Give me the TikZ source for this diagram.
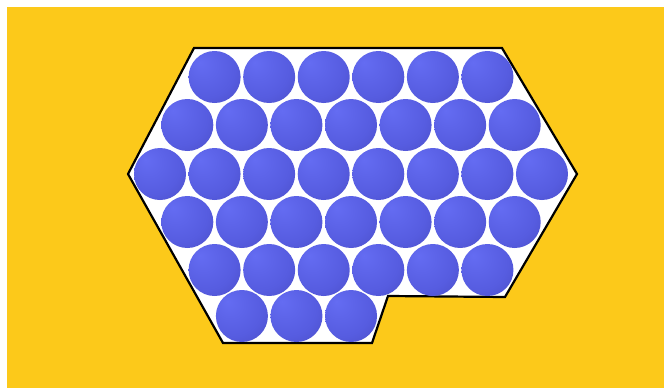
\documentclass[tikz,border=0pt]{standalone}
\usepackage{tikz}
\usepackage{xcolor}
\usetikzlibrary{calc}

\definecolor{bgyellow}{RGB}{252,201,26}
\definecolor{atomlight}{RGB}{100,108,242}
\definecolor{atommid}{RGB}{86,92,224}
\definecolor{atomdark}{RGB}{64,64,176}

\pgfdeclareradialshading{atomshade}{\pgfpoint{-14bp}{14bp}}{%
  color(0bp)=(atomlight); color(28bp)=(atommid); color(60bp)=(atomdark); color(70bp)=(atomdark)}

\begin{document}
\begin{tikzpicture}[x=1pt, y=-1pt,
        outline/.style={draw=black, line width=2.2pt, fill=white, line join=miter},
        atom/.style={shading=atomshade}
    ]

    \useasboundingbox[fill=white] (0,0) rectangle (664,388);

    % --- 1. BACKGROUND ---
    \fill[bgyellow] (7,7) rectangle (664,388);

    % --- 2. CRYSTAL OUTLINE ---
    \draw[outline] (194,48) -- (502,48) -- (577,174) -- (505,297) -- (388,296)
        -- (372,343) -- (223,343) -- (128,174) -- cycle;

    % --- 3. PACKED ATOMS ---
    % row / y / first x / count
    \foreach \ry/\fx/\n in {77/214.6/6, 125/187.3/7, 174/160/8, 222/187.3/7, 270/214.6/6, 316/241.9/3}{
        \foreach \i in {1,...,\n}{
            \shade[atom] ({\fx+(\i-1)*54.57},\ry) circle (26);
        }
    }

\end{tikzpicture}
\end{document}
